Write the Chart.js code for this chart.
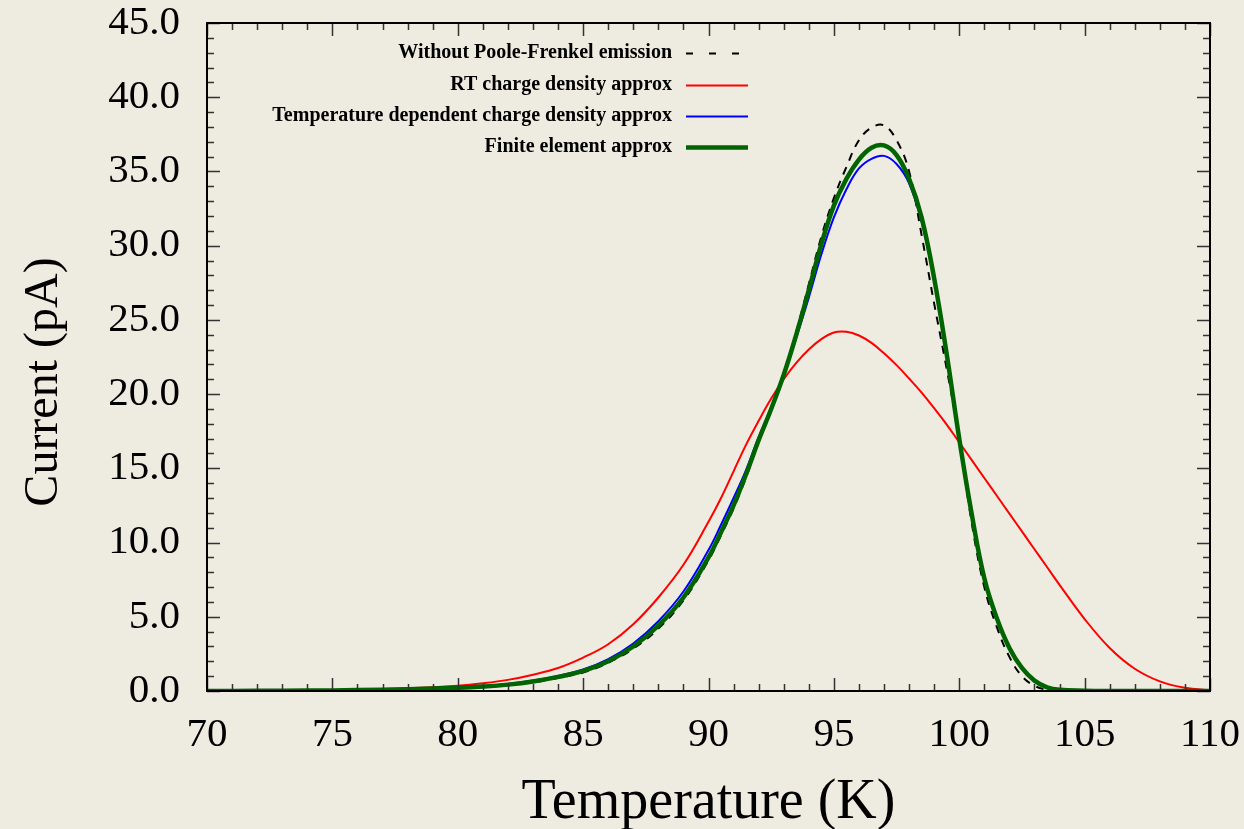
<!DOCTYPE html>
<html>
<head>
<meta charset="utf-8">
<script src="https://cdn.jsdelivr.net/npm/chart.js@4"></script>
<style>
  html, body { margin: 0; padding: 0; background: #eeebe0; }
  #wrap { width: 1244px; height: 829px; position: relative; }
</style>
</head>
<body>
<div id="wrap"><canvas id="myChart"></canvas></div>
<script>
// temperature (K) shared by all curves
const temps = [70, 72, 74, 76, 78, 80, 81, 82, 83, 84, 85, 86, 87, 88, 89,
  90, 90.5, 91, 91.5, 92, 92.5, 93, 93.5, 94, 94.5, 95, 95.5, 96, 96.5, 97, 97.5,
  98, 98.5, 99, 99.5, 100, 100.5, 101, 101.5, 102, 102.5, 103, 103.5, 104,
  105, 106, 107, 108, 109, 110];

// current (pA)
const withoutPF = [0, 0.01, 0.02, 0.05, 0.1, 0.18, 0.27, 0.39, 0.58, 0.88, 1.25, 1.9, 2.85, 4.2, 6.1,
  8.8, 10.5, 12.3, 14.4, 16.8, 19.0, 21.4, 24.2, 27.4, 30.6, 33.2, 35.3, 37.1, 37.95, 38.1, 37.1,
  35.0, 30.7, 26.1, 21.7, 17.0, 11.3, 7.0, 4.3, 2.3, 1.0, 0.35, 0.08, 0.02,
  0, 0, 0, 0, 0, 0];
const rtApprox = [0, 0.01, 0.04, 0.08, 0.18, 0.36, 0.52, 0.75, 1.1, 1.55, 2.25, 3.15, 4.5, 6.3, 8.5,
  11.4, 13.0, 14.8, 16.6, 18.2, 19.7, 21.0, 22.1, 23.0, 23.7, 24.15, 24.2, 23.95, 23.45, 22.75, 21.95,
  21.05, 20.1, 19.05, 17.95, 16.75, 15.55, 14.35, 13.15, 11.95, 10.75, 9.55, 8.35, 7.15,
  4.85, 2.9, 1.5, 0.65, 0.22, 0.05];
const tempDepApprox = [0, 0.01, 0.03, 0.07, 0.13, 0.25, 0.34, 0.48, 0.7, 1.02, 1.45, 2.15, 3.2, 4.7, 6.7,
  9.5, 11.2, 13.0, 14.9, 17.1, 19.1, 21.3, 23.8, 26.5, 29.4, 31.9, 33.8, 35.2, 35.85, 36.05, 35.5,
  34.2, 31.6, 27.7, 22.7, 17.0, 11.8, 7.6, 4.9, 2.9, 1.55, 0.7, 0.25, 0.08,
  0.02, 0, 0, 0, 0, 0];
const finiteElement = [0, 0.01, 0.03, 0.06, 0.12, 0.22, 0.3, 0.43, 0.64, 0.95, 1.35, 2.0, 3.0, 4.4, 6.3,
  9.0, 10.7, 12.5, 14.6, 16.9, 19.0, 21.3, 24.0, 27.0, 30.1, 32.7, 34.5, 35.8, 36.6, 36.75, 36.1,
  34.5, 31.9, 27.8, 22.7, 17.0, 11.9, 7.6, 4.9, 2.9, 1.55, 0.7, 0.25, 0.08,
  0.02, 0, 0, 0, 0, 0];

const xTickValues = [70, 75, 80, 85, 90, 95, 100, 105, 110];
const yTickValues = [0, 5, 10, 15, 20, 25, 30, 35, 40, 45];

const serif = "'Liberation Serif', 'Times New Roman', serif";

function pts(ys) {
  return temps.map((t, i) => ({ x: t, y: ys[i] }));
}

const decor = {
  id: 'decor',
  beforeDraw(chart) {
    const c = chart.ctx;
    c.save();
    c.fillStyle = '#eeebe0';
    c.fillRect(0, 0, chart.width, chart.height);
    c.restore();
  },
  afterDraw(chart) {
    const c = chart.ctx;
    const a = chart.chartArea;
    const xs = chart.scales.x, ys = chart.scales.y;
    c.save();

    // inward tick marks on all four sides
    c.strokeStyle = '#333';
    c.lineWidth = 1.5;
    c.beginPath();
    for (let v = xs.min; v <= xs.max; v++) {
      const px = Math.round(xs.getPixelForValue(v)) + 0.5;
      const len = v % 5 === 0 ? 13 : 7;
      c.moveTo(px, a.bottom); c.lineTo(px, a.bottom - len);
      c.moveTo(px, a.top); c.lineTo(px, a.top + len);
    }
    for (let v = ys.min; v <= ys.max; v++) {
      const py = Math.round(ys.getPixelForValue(v)) + 0.5;
      const len = v % 5 === 0 ? 13 : 7;
      c.moveTo(a.left, py); c.lineTo(a.left + len, py);
      c.moveTo(a.right, py); c.lineTo(a.right - len, py);
    }
    c.stroke();

    // frame
    c.strokeStyle = '#000';
    c.lineWidth = 2;
    c.strokeRect(a.left, a.top, a.right - a.left, a.bottom - a.top);

    // legend: text on the left, sample on the right
    const rows = [53, 85, 116, 147];
    c.font = 'bold 20px ' + serif;
    c.textAlign = 'right';
    c.textBaseline = 'middle';
    chart.data.datasets.forEach((ds, i) => {
      const y = rows[i];
      c.fillStyle = '#000';
      c.fillText(ds.label, 672, y);
      c.strokeStyle = ds.borderColor;
      c.lineWidth = ds.borderWidth;
      c.setLineDash(ds.borderDash ? [7, 16] : []);
      c.beginPath();
      c.moveTo(686, y + 0.5);
      c.lineTo(748, y + 0.5);
      c.stroke();
    });
    c.setLineDash([]);

    // axis titles
    c.fillStyle = '#000';
    c.textAlign = 'center';
    c.textBaseline = 'alphabetic';
    c.font = '56px ' + serif;
    c.fillText('Temperature (K)', (a.left + a.right) / 2, 818);
    c.translate(57, 382);
    c.rotate(-Math.PI / 2);
    c.font = '48px ' + serif;
    c.fillText('Current (pA)', 0, 0);
    c.restore();
  }
};

const ctx = document.getElementById('myChart');

new Chart(ctx, {
  type: 'line',
  data: {
    datasets: [
      { label: 'Without Poole-Frenkel emission', data: pts(withoutPF),
        borderColor: '#000', borderWidth: 2, borderDash: [8, 7], order: 1 },
      { label: 'RT charge density approx', data: pts(rtApprox),
        borderColor: '#ff0000', borderWidth: 2, order: 3 },
      { label: 'Temperature dependent charge density approx', data: pts(tempDepApprox),
        borderColor: '#0000ff', borderWidth: 2, order: 2 },
      { label: 'Finite element approx', data: pts(finiteElement),
        borderColor: '#006400', borderWidth: 4.5, order: 0 }
    ].map(ds => Object.assign(ds, { tension: 0.4, pointRadius: 0, fill: false }))
  },
  options: {
    responsive: true,
    maintainAspectRatio: false,
    animation: false,
    layout: { padding: { top: 23, right: 34, left: 0, bottom: 0 } },
    plugins: {
      legend: { display: false },
      tooltip: { enabled: false }
    },
    scales: {
      x: {
        type: 'linear',
        min: 70,
        max: 110,
        afterBuildTicks: s => { s.ticks = xTickValues.map(v => ({ value: v })); },
        afterFit: s => { s.height = 138; s.paddingLeft = 0; s.paddingRight = 0; },
        grid: { display: false, drawTicks: false },
        border: { display: false },
        ticks: {
          color: '#000',
          padding: 20,
          maxRotation: 0,
          font: { family: serif, size: 41 },
          callback: v => String(v)
        }
      },
      y: {
        min: 0,
        max: 45,
        afterBuildTicks: s => { s.ticks = yTickValues.map(v => ({ value: v })); },
        afterFit: s => { s.width = 207; s.paddingTop = 0; s.paddingBottom = 0; },
        grid: { display: false, drawTicks: false },
        border: { display: false },
        ticks: {
          color: '#000',
          padding: 27,
          font: { family: serif, size: 41 },
          callback: v => v.toFixed(1)
        }
      }
    }
  },
  plugins: [decor]
});
</script>
</body>
</html>
